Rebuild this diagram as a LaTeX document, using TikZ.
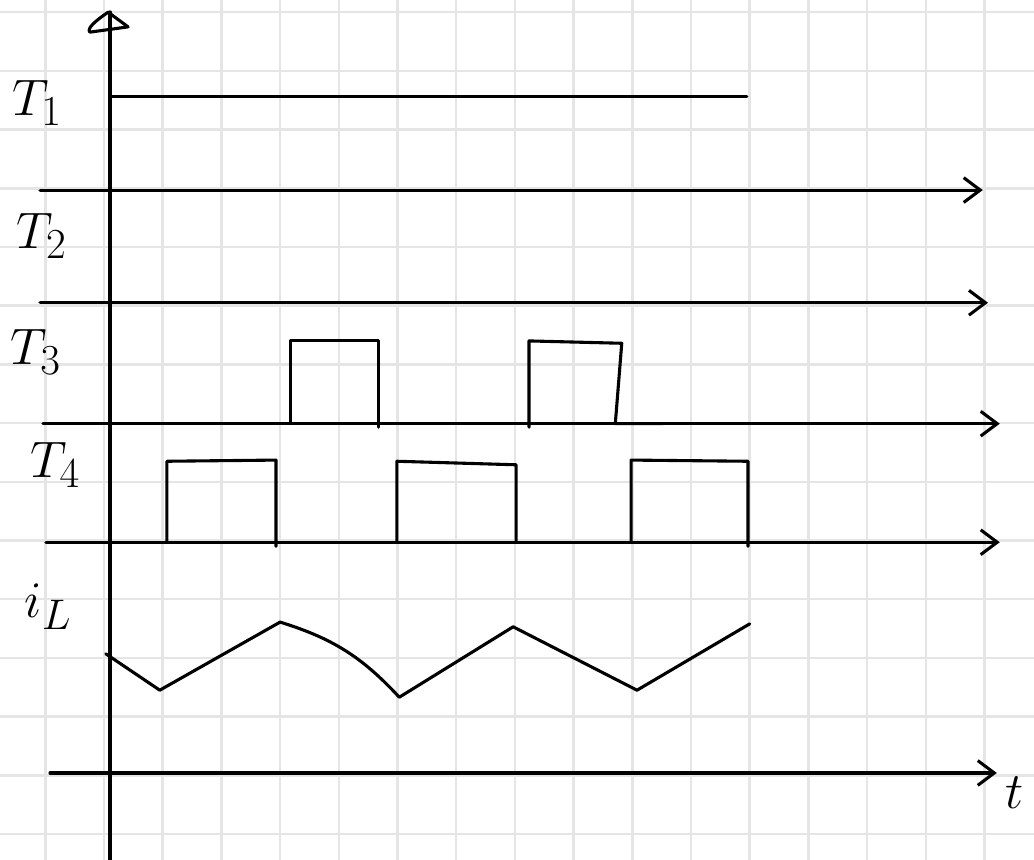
\documentclass[tikz,border=0pt]{standalone}
\usetikzlibrary{arrows.meta}
\tikzset{
  gridline/.style={color=gray!20, line width=1.2pt},
  trace/.style={line width=1.5pt},
  siglabel/.style={font=\Huge, inner sep=0pt}
}

\begin{document}
\begin{tikzpicture}[line cap=round,line join=round,>={Straight Barb[length=8pt,width=12pt]},x=1cm,y=1cm]
    \useasboundingbox (-1.772,-0.426) rectangle (15.843,14.208);
    \clip (-1.772,-0.426) rectangle (15.843,14.208);

    % Grid paper
    \foreach \gx in {-1,...,15} {
            \draw[gridline] (\gx,-0.5) -- (\gx,14.3);
        }
    \foreach \gy in {0,...,14} {
            \draw[gridline] (-1.8,\gy) -- (15.9,\gy);
        }

    % Vertical axis and its open head
    \draw[trace, line width=1.8pt] (0.1,-0.5) -- (0.1,14.0);
    \draw[trace] (0.07,14.0) .. controls (-0.15,13.85) and (-0.3,13.72) .. (-0.24,13.66) -- (0.41,13.75) -- cycle;

    % Time axes, one per signal
    \foreach \ya/\xa/\xb in {10.97/-1.09/14.97, 9.05/-1.09/15.06, 6.99/-1.04/15.26, 4.97/-0.99/15.26, 1.04/-0.92/15.21} {
            \draw[trace,->] (\xa,\ya) -- (\xb,\ya);
        }

    % T1 stays on
    \draw[trace] (0.1,12.56) -- (10.95,12.56);

    % T3 pulses
    \draw[trace] (3.17,6.99) -- (3.17,8.40) -- (4.67,8.40) -- (4.67,6.93);
    \draw[trace] (7.24,6.93) -- (7.24,8.40) -- (8.82,8.36) -- (8.71,6.99) -- (9.52,6.99);

    % T4 pulses
    \draw[trace] (1.07,4.97) -- (1.07,6.35) -- (2.93,6.37) -- (2.93,4.90);
    \draw[trace] (4.99,4.97) -- (4.99,6.35) -- (7.02,6.29) -- (7.02,4.97);
    \draw[trace] (8.98,4.97) -- (8.98,6.37) -- (10.97,6.35) -- (10.97,4.90);

    % Inductor current
    \draw[trace] (0.03,3.07) -- (0.95,2.45) -- (3.00,3.61) to[bend left=15] (5.03,2.33) -- (6.97,3.53) -- (9.08,2.45) -- (11.0,3.58);

    % Labels
    \node[siglabel] (T1lbl) at (-1.14,12.45) {$T_1$};
    \node[siglabel] (T2lbl) at (-1.06,10.19) {$T_2$};
    \node[siglabel] (T3lbl) at (-1.16,8.21) {$T_3$};
    \node[siglabel] (T4lbl) at (-0.83,6.29) {$T_4$};
    \node[siglabel] (iLlbl) at (-0.95,3.87) {$i_L$};
    \node[siglabel] (tlbl) at (15.52,0.70) {$t$};
\end{tikzpicture}
\end{document}
